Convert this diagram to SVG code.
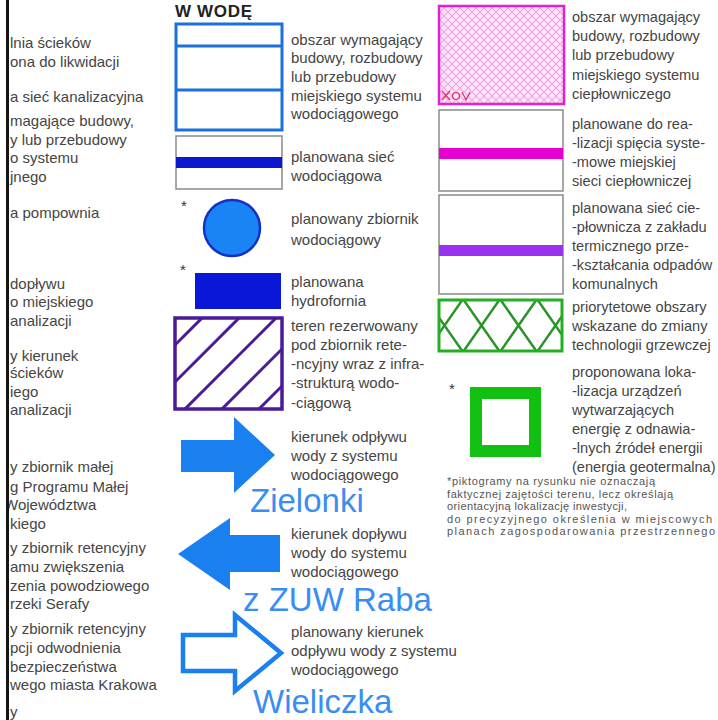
<svg xmlns="http://www.w3.org/2000/svg" width="718" height="720" viewBox="0 0 718 720">
  <style>
    .t { font-family: "Liberation Sans", Arial, sans-serif; font-size: 15px; fill: #454545; }
    .tr { font-family: "Liberation Sans", Arial, sans-serif; font-size: 14.6px; fill: #454545; }
    .fn { font-family: "Liberation Sans", Arial, sans-serif; font-size: 11px; fill: #555; }
    .big { font-family: "Liberation Sans", Arial, sans-serif; font-size: 33px; fill: #3a8ef2; }
    .star { font-family: "Liberation Sans", Arial, sans-serif; font-size: 15px; fill: #333; }
    .box { fill: #fff; stroke: #8a8a8a; stroke-width: 1.5; }
    .arrow { fill: #1a80ef; }
  </style>
  <defs>
    <pattern id="pinkLattice" width="8" height="8" patternUnits="userSpaceOnUse">
      <rect width="8" height="8" fill="#fbe8f7"/>
      <path d="M0 4 L4 0 L8 4 L4 8 Z" fill="none" stroke="#f2a6e4" stroke-width="1.1"/>
    </pattern>
    <clipPath id="hatchClip"><rect x="175" y="318" width="107" height="91"/></clipPath>
    <clipPath id="greenClip"><rect x="439" y="300" width="123" height="51"/></clipPath>
    <clipPath id="leftClip"><rect x="9" y="0" width="160" height="720"/></clipPath>
  </defs>

  <rect width="718" height="720" fill="#fff"/>

  <!-- page edge on the left -->
  <rect x="6" y="0" width="3" height="720" fill="#151515"/>

  <!-- left column: sewage legend (cut off) -->
  <g id="left-column" clip-path="url(#leftClip)" class="t">
    <text x="10" y="48">lnia ścieków</text>
    <text x="10" y="67">ona do likwidacji</text>
    <text x="10" y="102">a sieć kanalizacyjna</text>
    <text x="10" y="126">magające budowy,</text>
    <text x="10" y="145">y lub przebudowy</text>
    <text x="10" y="163">o systemu</text>
    <text x="10" y="182">jnego</text>
    <text x="10" y="218">a pompownia</text>
    <text x="10" y="289">dopływu</text>
    <text x="10" y="307">o miejskiego</text>
    <text x="10" y="326">analizacji</text>
    <text x="10" y="361">y kierunek</text>
    <text x="10" y="378">ścieków</text>
    <text x="10" y="397">iego</text>
    <text x="10" y="415">analizacji</text>
    <text x="10" y="472">y zbiornik małej</text>
    <text x="10" y="492">g Programu Małej</text>
    <text x="4" y="510">Województwa</text>
    <text x="10" y="529">kiego</text>
    <text x="10" y="553">y zbiornik retencyjny</text>
    <text x="10" y="572">amu zwiększenia</text>
    <text x="10" y="591">zenia powodziowego</text>
    <text x="10" y="609">rzeki Serafy</text>
    <text x="10" y="634">y zbiornik retencyjny</text>
    <text x="10" y="653">pcji odwodnienia</text>
    <text x="10" y="672"> bezpieczeństwa</text>
    <text x="10" y="690">wego miasta Krakowa</text>
    <text x="10" y="717">y</text>
  </g>

  <!-- middle column: water supply -->
  <text x="175" y="17" font-family="Liberation Sans, Arial, sans-serif" font-size="17" font-weight="bold" fill="#222" textLength="77">W WODĘ</text>

  <g id="water-area">
    <rect x="176" y="24" width="106" height="106" fill="#fff" stroke="#1c6fdc" stroke-width="3"/>
    <line x1="176" y1="46" x2="282" y2="46" stroke="#1c6fdc" stroke-width="3"/>
    <line x1="176" y1="90" x2="282" y2="90" stroke="#1c6fdc" stroke-width="3"/>
    <text class="t"><tspan x="291" y="45">obszar wymagający</tspan><tspan x="291" y="63">budowy, rozbudowy</tspan><tspan x="291" y="82">lub przebudowy</tspan><tspan x="291" y="101">miejskiego systemu</tspan><tspan x="291" y="119">wodociągowego</tspan></text>
  </g>

  <g id="water-network">
    <rect class="box" x="176" y="136" width="106" height="53"/>
    <rect x="176" y="157" width="106" height="11" fill="#0c18d0"/>
    <text class="t"><tspan x="291" y="162">planowana sieć</tspan><tspan x="291" y="181">wodociągowa</tspan></text>
  </g>

  <g id="water-tank">
    <text class="star" x="181" y="211">*</text>
    <circle cx="232" cy="228" r="28" fill="#1a84f4" stroke="#1530c8" stroke-width="2.5"/>
    <text class="t"><tspan x="291" y="224">planowany zbiornik</tspan><tspan x="291" y="245">wodociągowy</tspan></text>
  </g>

  <g id="hydrophore">
    <text class="star" x="180" y="275">*</text>
    <rect x="195" y="273" width="86" height="36" fill="#0a16d8"/>
    <text class="t"><tspan x="291" y="287">planowana</tspan><tspan x="291" y="306">hydrofornia</tspan></text>
  </g>

  <g id="retention-reserve">
    <rect x="175" y="318" width="107" height="91" fill="#fff"/>
    <g clip-path="url(#hatchClip)" stroke="#4a1a98" stroke-width="3">
      <line x1="150" y1="370" x2="300" y2="220"/>
      <line x1="150" y1="407" x2="300" y2="257"/>
      <line x1="150" y1="444" x2="300" y2="294"/>
      <line x1="150" y1="481" x2="300" y2="331"/>
      <line x1="150" y1="518" x2="300" y2="368"/>
    </g>
    <rect x="175" y="318" width="107" height="91" fill="none" stroke="#4a1a98" stroke-width="3.5"/>
    <text class="t"><tspan x="291" y="331">teren rezerwowany</tspan><tspan x="291" y="350">pod zbiornik rete-</tspan><tspan x="291" y="369">-ncyjny wraz z infra-</tspan><tspan x="291" y="388">-strukturą wodo-</tspan><tspan x="291" y="408">-ciągową</tspan></text>
  </g>

  <g id="outflow-zielonki">
    <polygon class="arrow" points="181,440 234,440 234,417 275,455 234,493 234,472 181,472"/>
    <text class="t"><tspan x="291" y="442">kierunek odpływu</tspan><tspan x="291" y="461">wody z systemu</tspan><tspan x="291" y="480">wodociągowego</tspan></text>
    <text class="big" x="250" y="512">Zielonki</text>
  </g>

  <g id="inflow-raba">
    <polygon class="arrow" points="280,535 230,535 230,518 178,554 230,590 230,572 280,572"/>
    <text class="t"><tspan x="291" y="539">kierunek dopływu</tspan><tspan x="291" y="558">wody do systemu</tspan><tspan x="291" y="577">wodociągowego</tspan></text>
    <text class="big" x="243" y="611">z ZUW Raba</text>
  </g>

  <g id="outflow-wieliczka">
    <polygon points="183,635 235,635 235,615 281,653 235,691 235,671 183,671" fill="#fff" stroke="#1a80ef" stroke-width="4.5"/>
    <text class="t"><tspan x="291" y="637">planowany kierunek</tspan><tspan x="291" y="656">odpływu wody z systemu</tspan><tspan x="291" y="675">wodociągowego</tspan></text>
    <text class="big" x="253" y="713">Wieliczka</text>
  </g>

  <!-- right column: district heating -->
  <g id="heat-area">
    <rect x="439" y="6" width="125" height="98" fill="url(#pinkLattice)" stroke="#e41ed2" stroke-width="2.5"/>
    <path d="M442 91 L450 100 M450 91 L442 100 M462 92 L466 100 L470 92" fill="none" stroke="#e0306a" stroke-width="1.2"/>
    <circle cx="456" cy="96" r="3.5" fill="none" stroke="#e0306a" stroke-width="1.2"/>
    <text class="tr"><tspan x="572" y="22">obszar wymagający</tspan><tspan x="572" y="41">budowy, rozbudowy</tspan><tspan x="572" y="60">lub przebudowy</tspan><tspan x="572" y="80">miejskiego systemu</tspan><tspan x="572" y="99">ciepłowniczego</tspan></text>
  </g>

  <g id="heat-links">
    <rect class="box" x="439" y="110" width="124" height="81"/>
    <rect x="439" y="148" width="124" height="11" fill="#e600d2"/>
    <text class="tr"><tspan x="572" y="129">planowane do rea-</tspan><tspan x="572" y="148">-lizacji spięcia syste-</tspan><tspan x="572" y="167">-mowe miejskiej</tspan><tspan x="572" y="186">sieci ciepłowniczej</tspan></text>
  </g>

  <g id="heat-network">
    <rect class="box" x="439" y="195" width="124" height="99"/>
    <rect x="439" y="245" width="124" height="11" fill="#9a30f0"/>
    <text class="tr"><tspan x="572" y="213">planowana sieć cie-</tspan><tspan x="572" y="232">-płownicza z zakładu</tspan><tspan x="572" y="251">termicznego prze-</tspan><tspan x="572" y="270">-kształcania odpadów</tspan><tspan x="572" y="289">komunalnych</tspan></text>
  </g>

  <g id="heating-change">
    <rect x="439" y="300" width="123" height="51" fill="#fff"/>
    <g clip-path="url(#greenClip)" stroke="#2a942a" stroke-width="2.5">
      <line x1="426" y1="299" x2="463" y2="352"/>
      <line x1="463" y1="299" x2="500" y2="352"/>
      <line x1="500" y1="299" x2="537" y2="352"/>
      <line x1="537" y1="299" x2="574" y2="352"/>
      <line x1="463" y1="299" x2="426" y2="352"/>
      <line x1="500" y1="299" x2="463" y2="352"/>
      <line x1="537" y1="299" x2="500" y2="352"/>
      <line x1="574" y1="299" x2="537" y2="352"/>
    </g>
    <rect x="439" y="300" width="123" height="51" fill="none" stroke="#22b022" stroke-width="3"/>
    <text class="tr"><tspan x="572" y="312">priorytetowe obszary</tspan><tspan x="572" y="331">wskazane do zmiany</tspan><tspan x="572" y="350">technologii grzewczej</tspan></text>
  </g>

  <g id="renewable-energy">
    <text class="star" x="449" y="394">*</text>
    <path d="M470 387 H541 V457 H470 Z M482 399 V445 H529 V399 Z" fill="#12c012" fill-rule="evenodd"/>
    <text class="tr"><tspan x="572" y="377">proponowana loka-</tspan><tspan x="572" y="396">-lizacja urządzeń</tspan><tspan x="572" y="415">wytwarzających</tspan><tspan x="572" y="434">energię z odnawia-</tspan><tspan x="572" y="453">-lnych źródeł energii</tspan><tspan x="572" y="472">(energia geotermalna)</tspan></text>
  </g>

  <g id="footnote" class="fn">
    <text x="447" y="485" textLength="208">*piktogramy na rysunku nie oznaczają</text>
    <text x="447" y="497.5" textLength="226">faktycznej zajętości terenu, lecz określają</text>
    <text x="447" y="510" textLength="180">orientacyjną lokalizację inwestycji,</text>
    <text x="447" y="522.5" textLength="265">do precyzyjnego określenia w miejscowych</text>
    <text x="447" y="535" textLength="268">planach zagospodarowania przestrzennego</text>
  </g>
</svg>
